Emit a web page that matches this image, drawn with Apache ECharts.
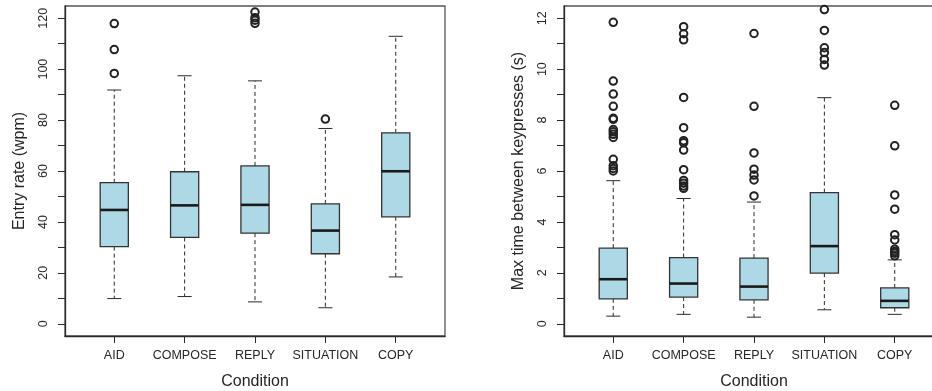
<!DOCTYPE html>
<html>
<head>
<meta charset="utf-8">
<script src="https://cdn.jsdelivr.net/npm/echarts@6/dist/echarts.min.js"></script>
<style>
html,body{margin:0;padding:0;background:#fff;}
#chart{width:932px;height:391px;}
</style>
</head>
<body>
<div id="chart"></div>
<script>
// ---------- data ----------
const categories = ['AID', 'COMPOSE', 'REPLY', 'SITUATION', 'COPY'];

// [lower whisker, Q1, median, Q3, upper whisker]
const entryRateStats = [
  [9.9, 30.3, 44.7, 55.4, 91.8],
  [10.7, 33.9, 46.5, 59.7, 97.4],
  [8.6, 35.6, 46.7, 62.0, 95.4],
  [6.3, 27.5, 36.6, 47.1, 76.7],
  [18.4, 42.0, 59.9, 75.0, 112.9]
];
const entryRateOutliers = [
  [117.9, 107.7, 98.3],
  [],
  [122.4, 120.2, 119.2, 118.0],
  [80.4],
  []
];

const maxTimeStats = [
  [0.30, 0.98, 1.75, 2.97, 5.62],
  [0.37, 1.05, 1.58, 2.60, 4.92],
  [0.26, 0.94, 1.46, 2.58, 4.78],
  [0.55, 1.99, 3.05, 5.15, 8.88],
  [0.37, 0.63, 0.90, 1.41, 2.51]
];
const maxTimeOutliers = [
  [11.84, 9.53, 9.02, 8.54, 8.07, 8.03, 7.63, 7.54, 7.44, 7.32, 6.46, 6.21, 6.10, 6.00],
  [11.67, 11.39, 11.15, 8.89, 7.70, 7.19, 7.11, 6.82, 6.05, 5.63, 5.52, 5.41, 5.32],
  [11.40, 8.54, 6.71, 6.07, 5.84, 5.65, 5.02],
  [12.34, 11.52, 10.84, 10.65, 10.38, 10.16],
  [8.58, 6.99, 5.06, 4.50, 3.50, 3.29, 2.93, 2.84, 2.77, 2.67]
];

const entryRateTicks = [0, 10, 20, 30, 40, 50, 60, 70, 80, 90, 100, 110, 120];
const entryRateLabels = [0, 20, 40, 60, 80, 100, 120];
const maxTimeTicks = [0, 1, 2, 3, 4, 5, 6, 7, 8, 9, 10, 11, 12];
const maxTimeLabels = [0, 2, 4, 6, 8, 10, 12];
const categoryPositions = [1, 2, 3, 4, 5];

// ---------- build ----------
const FONT = '"Liberation Sans", Arial, Helvetica, sans-serif';
const TEXT = '#262626';
const LINE = '#2b2b2b';

function boxData(stats) {
  return stats.map((s, i) => [i + 1].concat(s));
}
function outlierData(outs) {
  const res = [];
  outs.forEach((list, i) => list.forEach(v => res.push([i + 1, v])));
  return res;
}

function renderBox(params, api) {
  const x = api.value(0);
  const low = api.coord([x, api.value(1)]);
  const q1 = api.coord([x, api.value(2)]);
  const med = api.coord([x, api.value(3)]);
  const q3 = api.coord([x, api.value(4)]);
  const high = api.coord([x, api.value(5)]);
  const half = api.size([0.4, 0])[0] / 2;
  const cap = api.size([0.2, 0])[0] / 2;
  const cx = low[0];
  const dash = { stroke: LINE, lineWidth: 1, lineDash: [4, 3] };
  const solid = { stroke: LINE, lineWidth: 1 };
  return {
    type: 'group',
    children: [
      { type: 'line', shape: { x1: cx, y1: q3[1], x2: cx, y2: high[1] }, style: dash },
      { type: 'line', shape: { x1: cx, y1: q1[1], x2: cx, y2: low[1] }, style: dash },
      { type: 'line', shape: { x1: cx - cap, y1: high[1], x2: cx + cap, y2: high[1] }, style: solid },
      { type: 'line', shape: { x1: cx - cap, y1: low[1], x2: cx + cap, y2: low[1] }, style: solid },
      { type: 'rect', shape: { x: cx - half, y: q3[1], width: half * 2, height: q1[1] - q3[1] },
        style: { fill: '#ADD8E6', stroke: '#333', lineWidth: 1.3 } },
      { type: 'line', shape: { x1: cx - half, y1: med[1], x2: cx + half, y2: med[1] },
        style: { stroke: '#1a1a1a', lineWidth: 2.6 } }
    ]
  };
}

function xAxisFor(gridIndex) {
  return {
    type: 'value', gridIndex: gridIndex, min: 0.3, max: 5.7,
    name: 'Condition', nameLocation: 'middle', nameGap: 38, nameMoveOverlap: false,
    nameTextStyle: { fontFamily: FONT, fontSize: 16, color: TEXT },
    axisLine: { show: true, onZero: false, lineStyle: { color: LINE, width: 1.3 } },
    axisTick: { show: true, length: 7, customValues: categoryPositions, lineStyle: { color: LINE, width: 1 } },
    axisLabel: { customValues: categoryPositions, margin: 13, fontFamily: FONT, fontSize: 12.5, color: TEXT,
      formatter: v => categories[Math.round(v) - 1] || '' },
    splitLine: { show: false }
  };
}
function yAxisFor(gridIndex, min, max, ticks, labels, name) {
  return {
    type: 'value', gridIndex: gridIndex, min: min, max: max,
    name: name, nameLocation: 'middle', nameGap: 37, nameRotate: 90, nameMoveOverlap: false,
    nameTextStyle: { fontFamily: FONT, fontSize: 16, color: TEXT },
    axisLine: { show: true, onZero: false, lineStyle: { color: LINE, width: 1.3 } },
    axisTick: { show: true, length: 7, customValues: ticks, lineStyle: { color: LINE, width: 1 } },
    axisLabel: { customValues: labels, rotate: 90, margin: 15, fontFamily: FONT, fontSize: 12.5, color: TEXT },
    splitLine: { show: false }
  };
}

const scatterStyle = {
  symbol: 'circle', symbolSize: 7.5,
  itemStyle: { color: 'rgba(255,255,255,0)', borderColor: '#222', borderWidth: 2, opacity: 1 }
};

const chart = echarts.init(document.getElementById('chart'), null, { renderer: 'canvas' });
chart.setOption({
  animation: false,
  backgroundColor: '#fff',
  grid: [
    { left: 65, top: 6, width: 380, height: 330, show: true, borderColor: '#555', borderWidth: 1.3,
      backgroundColor: 'transparent', outerBoundsMode: 'none', containLabel: false },
    { left: 564, top: 6, width: 380, height: 330, show: true, borderColor: '#555', borderWidth: 1.3,
      backgroundColor: 'transparent', outerBoundsMode: 'none', containLabel: false }
  ],
  xAxis: [xAxisFor(0), xAxisFor(1)],
  yAxis: [
    yAxisFor(0, -4.8, 124.8, entryRateTicks, entryRateLabels, 'Entry rate (wpm)'),
    yAxisFor(1, -0.48, 12.48, maxTimeTicks, maxTimeLabels, 'Max time between keypresses (s)')
  ],
  series: [
    { type: 'custom', xAxisIndex: 0, yAxisIndex: 0, renderItem: renderBox,
      encode: { x: 0, y: [1, 2, 3, 4, 5] }, data: boxData(entryRateStats), silent: true },
    Object.assign({ type: 'scatter', xAxisIndex: 0, yAxisIndex: 0, data: outlierData(entryRateOutliers), silent: true }, scatterStyle),
    { type: 'custom', xAxisIndex: 1, yAxisIndex: 1, renderItem: renderBox,
      encode: { x: 0, y: [1, 2, 3, 4, 5] }, data: boxData(maxTimeStats), silent: true },
    Object.assign({ type: 'scatter', xAxisIndex: 1, yAxisIndex: 1, data: outlierData(maxTimeOutliers), silent: true }, scatterStyle)
  ]
});
</script>
</body>
</html>
